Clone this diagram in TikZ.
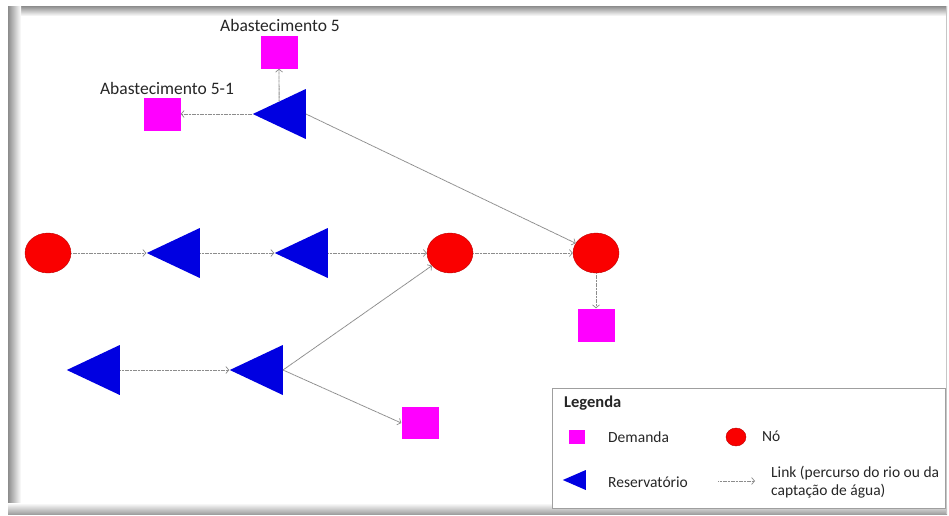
\documentclass[tikz,border=0pt]{standalone}
\usepackage{fontspec}
\setmainfont{Carlito}
\usetikzlibrary{shapes.geometric,arrows.meta}
\definecolor{resblue}{RGB}{0,0,225}
\definecolor{nodered}{RGB}{250,0,0}
\definecolor{demmag}{RGB}{255,0,255}
\definecolor{linkgray}{RGB}{140,140,140}
\begin{document}
\begin{tikzpicture}[x=1pt,y=-1pt,
  nodo/.style={ellipse,fill=nodered,draw=red!75!black,line width=0.4pt,minimum width=46pt,minimum height=40pt,inner sep=0pt},
  dem/.style={rectangle,fill=demmag,minimum width=37pt,minimum height=33pt,inner sep=0pt},
  res/.style={isosceles triangle,isosceles triangle stretches,shape border rotate=180,fill=resblue,minimum width=50pt,minimum height=53pt,inner sep=0pt,anchor=lower side},
  link/.style={draw=linkgray,line width=0.8pt,dash pattern=on 1.2pt off 0.4pt,-{Straight Barb[length=3pt,width=7pt,line width=0.7pt]}},
  lab/.style={font=\fontsize{17.5}{21}\selectfont,text=black!85,inner sep=0pt},
  legtxt/.style={font=\fontsize{15.5}{18.5}\selectfont,text=black!85,inner sep=0pt,anchor=west,align=left}
]
\useasboundingbox (0,0) rectangle (949,515);
% frame
\fill[white] (0,0) rectangle (949,515);
\shade[top color=gray!90,bottom color=white] (8,6) rectangle (947,16);
\shade[left color=gray!90,right color=white] (8,6) rectangle (21,514);
\shade[top color=white,bottom color=gray!75] (8,503) rectangle (947,514);
\draw[gray!45,line width=1pt] (946.5,6) -- (946.5,514);

% nodes (triangles placed by the midpoint of their base)
\node[nodo] (n1) at (48,253) {};
\node[res] (r1) at (200,253) {};
\node[res] (r2) at (328,253) {};
\node[nodo] (n2) at (450,253) {};
\node[nodo] (n3) at (596,253) {};
\node[dem] (d3) at (596,325) {};
\node[res] (rt) at (306,114) {};
\node[dem] (d5) at (279,52) {};
\node[dem] (d51) at (162,114) {};
\node[res] (rb1) at (120,370) {};
\node[res] (rb2) at (283,370) {};
\node[dem,minimum height=32pt] (db) at (420,423) {};

\node[lab] (l5) at (280,25) {Abastecimento 5};
\node[lab] (l51) at (167,88) {Abastecimento 5-1};

% links
\draw[link] (n1) -- (r1.apex);
\draw[link] (r1.lower side) -- (r2.apex);
\draw[link] (r2.lower side) -- (n2);
\draw[link] (n2) -- (n3);
\draw[link] (rt.lower side) -- (n3);
\draw[link] (rt.right side) -- (d5);
\draw[link] (rt.apex) -- (d51);
\draw[link] (n3) -- (d3);
\draw[link] (rb1.lower side) -- (rb2.apex);
\draw[link] (rb2.lower side) -- (n2);
\draw[link] (rb2.lower side) -- (db.west);

% legend
\node[draw=gray!75,line width=0.9pt,fill=white,minimum width=393pt,minimum height=120pt,inner sep=0pt] (leg) at (748.5,448) {};
\node[legtxt,font=\fontsize{16.5}{19.5}\selectfont\bfseries] (legt) at (564,403) {Legenda};
\node[dem,minimum width=16pt,minimum height=14pt] (kd) at (577,437) {};
\node[legtxt] (kdt) at (608,437) {Demanda};
\node[nodo,minimum width=20pt,minimum height=18pt] (kn) at (736,437) {};
\node[legtxt] (knt) at (762,436) {Nó};
\node[res,minimum width=20pt,minimum height=23pt] (kr) at (586,480) {};
\node[legtxt] (krt) at (608,482) {Reservatório};
\coordinate (ka) at (718,481);
\coordinate (kb) at (755,481);
\draw[link] (ka) -- (kb);
\node[legtxt] (klt) at (771,482) {Link (percurso do rio ou da\\captação de água)};
\end{tikzpicture}
\end{document}
